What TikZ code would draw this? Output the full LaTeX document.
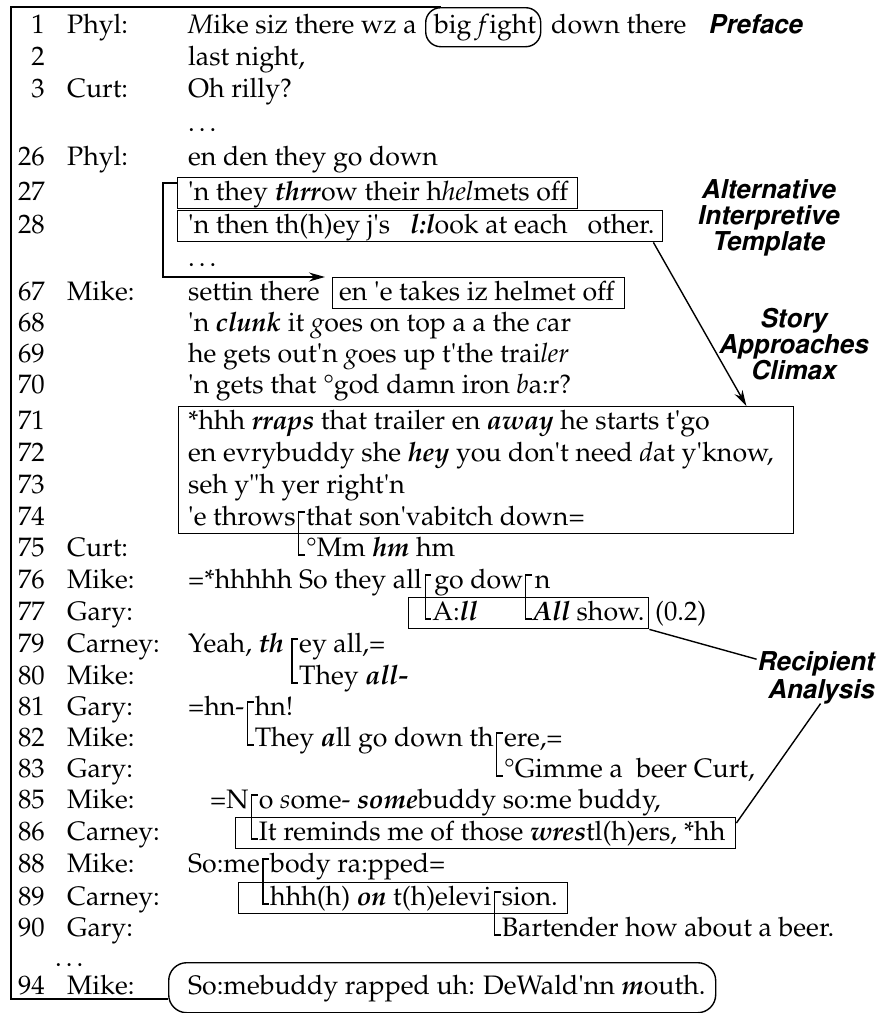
\documentclass[tikz,border=0pt]{standalone}
\usepackage[T1]{fontenc}
\renewcommand\rmdefault{ppl}
\usetikzlibrary{calc,arrows.meta}
\newcommand\bi[1]{\textbf{\textit{#1}}}
\newcommand\q{\textquotesingle}
\newcommand\fs{\fontsize{26.7}{32}\selectfont}
\newcommand\lblfont{\fontfamily{phv}\fontseries{b}\fontshape{sl}\fontsize{26}{26}\selectfont}
\newcommand\rowlab[3]{\node[num] (n#1) at (45,#3) {#1}; \node[txt] (s#1) at (67,#3) {#2};}
\newcommand\brk[2]{\draw[brkst] ($(#1)+(6,-13)$) -- ++(-6,0) -- ++(0,#2) -- ++(6,0);}
\begin{document}
\begin{tikzpicture}[x=1pt,y=-1pt,
  txt/.style={anchor=base west,inner sep=0pt,font=\fs},
  num/.style={anchor=base east,inner sep=0pt,font=\fs},
  lbl/.style={inner sep=0pt,font=\lblfont,align=center},
  boxst/.style={draw,line width=1.4pt,inner sep=0pt,anchor=north west},
  ovalst/.style={boxst,rounded corners=15pt},
  brkst/.style={line width=1.1pt},
  conn/.style={line width=1.4pt},
  arr/.style={conn,-{Stealth[length=16pt,width=9pt]}}]
\fill[white] (0,0) rectangle (881,1013);
\path[use as bounding box] (0,0) rectangle (881,1013);

% row labels
\rowlab{1}{Phyl:}{33}
\rowlab{2}{}{65}
\rowlab{3}{Curt:}{97}
\rowlab{26}{Phyl:}{165}
\rowlab{27}{}{200}
\rowlab{28}{}{233}
\rowlab{67}{Mike:}{300}
\rowlab{68}{}{331}
\rowlab{69}{}{362}
\rowlab{70}{}{393}
\rowlab{71}{}{429}
\rowlab{72}{}{461}
\rowlab{73}{}{493}
\rowlab{74}{}{525}
\rowlab{75}{Curt:}{556}
\rowlab{76}{Mike:}{588}
\rowlab{77}{Gary:}{620}
\rowlab{79}{Carney:}{652}
\rowlab{80}{Mike:}{684}
\rowlab{81}{Gary:}{715}
\rowlab{82}{Mike:}{746}
\rowlab{83}{Gary:}{777}
\rowlab{85}{Mike:}{808}
\rowlab{86}{Carney:}{840}
\rowlab{88}{Mike:}{872}
\rowlab{89}{Carney:}{905}
\rowlab{90}{Gary:}{936}
\rowlab{94}{Mike:}{994}

% boxes
\node[ovalst,minimum width=115pt,minimum height=39pt] (bf) at (425,7) {};
\node[boxst,minimum width=400pt,minimum height=31pt] (b27) at (177,177) {};
\node[boxst,minimum width=485pt,minimum height=31pt] (b28) at (177,210) {};
\node[boxst,minimum width=292pt,minimum height=31pt] (b67) at (332,277) {};
\node[boxst,minimum width=615pt,minimum height=127pt] (b71) at (178,406) {};
\node[boxst,minimum width=240pt,minimum height=31pt] (b77) at (408,597) {};
\node[boxst,minimum width=500pt,minimum height=31pt] (b86) at (235,817) {};
\node[boxst,minimum width=329pt,minimum height=31pt] (b89) at (238,882) {};
\node[boxst,rounded corners=18pt,minimum width=547pt,minimum height=50pt] (m94) at (168,962) {};

% text
\node[txt] (t1a) at (188,33) {\textit{M}ike siz there wz a};
\node[txt] (t1b) at (434,33) {big \textit{f}ight};
\node[txt] (t1c) at (551,33) {down there};
\node[txt] (t2) at (188,65) {last night,};
\node[txt] (t3) at (188,97) {Oh rilly?};
\node[txt] (d1) at (188,131) {\textellipsis};
\node[txt] (t26) at (188,165) {en den they go down};
\node[txt] (t27) at (188,200) {\q n they \bi{thrr}ow their h\textit{hel}mets off};
\node[txt] (t28) at (188,233) {\q n then th(h)ey j\q s\ \ \ \bi{l:l}ook at each\ \ \ other.};
\node[txt] (d2) at (188,266) {\textellipsis};
\node[txt] (t67a) at (188,300) {settin there};
\node[txt] (t67b) at (339,300) {en \q e takes iz helmet off};
\node[txt] (t68) at (188,331) {\q n \bi{clunk} it \textit{g}oes on top a a the \textit{c}ar};
\node[txt] (t69) at (188,362) {he gets out\q n \textit{g}oes up t\q the trai\textit{ler}};
\node[txt] (t70) at (188,393) {\q n gets that \textdegree god damn iron \textit{b}a:r?};
\node[txt] (t71) at (188,429) {*hhh \bi{rraps} that trailer en \bi{away} he starts t\q go};
\node[txt] (t72) at (188,461) {en evrybuddy she \bi{hey} you don\q t need \textit{d}at y\q know,};
\node[txt] (t73) at (188,493) {seh y\textquotedbl h yer right\q n};
\node[txt] (t74a) at (188,525) {\q e throws};
\coordinate (k74) at ($(t74a.base east)+(3,0)$);
\node[txt] (t74b) at ($(k74)+(7,0)$) {that son\q vabitch down=};
\node[txt] (t75) at ($(k74)+(7,31)$) {\textdegree Mm \bi{hm} hm};
\brk{k74}{43}

\node[txt] (t76a) at (188,588) {=*hhhhh So they all};
\coordinate (k76a) at ($(t76a.base east)+(3,0)$);
\node[txt] (t76b) at ($(k76a)+(9,0)$) {go dow};
\coordinate (k76b) at ($(t76b.base east)+(2,0)$);
\node[txt] (t76c) at ($(k76b)+(9,0)$) {n};
\node[txt] (t77a) at ($(k76a)+(7,32)$) {A:\bi{ll}};
\node[txt] (t77b) at ($(k76b)+(7,32)$) {\bi{All} show.};
\node[txt] (t77c) at (655,620) {(0.2)};
\brk{k76a}{44}
\brk{k76b}{44}

\node[txt] (t79a) at (188,652) {Yeah, \bi{th}};
\coordinate (k79) at ($(t79a.base east)+(8,0)$);
\node[txt] (t79b) at ($(k79)+(7,0)$) {ey all,=};
\node[txt] (t80) at ($(k79)+(7,32)$) {They \bi{all-}};
\brk{k79}{44}

\node[txt] (t81a) at (188,715) {=hn-};
\coordinate (k81) at ($(t81a.base east)+(3,0)$);
\node[txt] (t81b) at ($(k81)+(7,0)$) {hn!};
\node[txt] (t82a) at ($(k81)+(7,31)$) {They \bi{a}ll go down th};
\brk{k81}{43}
\coordinate (k82) at ($(t82a.base east)+(3,0)$);
\node[txt] (t82b) at ($(k82)+(7,0)$) {ere,=};
\node[txt] (t83) at ($(k82)+(7,31)$) {\textdegree Gimme a\ \ beer Curt,};
\brk{k82}{43}

\node[txt] (t85a) at (210,808) {=N};
\coordinate (k85) at ($(t85a.base east)+(3,0)$);
\node[txt] (t85b) at ($(k85)+(7,0)$) {o \textit{s}ome- \bi{some}buddy so:me buddy,};
\node[txt] (t86) at ($(k85)+(7,32)$) {It reminds me of those \bi{wres}tl(h)ers, *hh};
\brk{k85}{44}

\node[txt] (t88a) at (188,872) {So:me};
\coordinate (k88) at ($(t88a.base east)+(3,0)$);
\node[txt] (t88b) at ($(k88)+(7,0)$) {body ra:pped=};
\node[txt] (t89a) at ($(k88)+(7,33)$) {hhh(h) \bi{on} t(h)elevi};
\brk{k88}{45}
\coordinate (k89) at ($(t89a.base east)+(3,0)$);
\node[txt] (t89b) at ($(k89)+(7,0)$) {sion.};
\node[txt] (t90) at ($(k89)+(7,31)$) {Bartender how about a beer.};
\brk{k89}{43}

\node[txt] (d3) at (55,966) {\textellipsis};
\node[txt] (t94) at (188,994) {So:mebuddy rapped uh: DeWald\q nn \bi{m}outh.};

% labels
\node[lbl,anchor=base west] (pref) at (708,33) {Preface};
\node[lbl] (alt) at (768,218) {Alternative\\Interpretive\\Template};
\node[lbl] (story) at (793,344) {Story\\Approaches\\Climax};
\node[lbl,anchor=base east] (rec1) at (874,670) {Recipient};
\node[lbl,anchor=base east] (rec2) at (874,698) {Analysis};

% connectors
\draw[conn] ([xshift=16pt]bf.north west) -- (11,7) -- (11,999) -- (m94.west |- 0,999);
\draw[arr] ([yshift=-6pt]b27.north west) -- ++(-14,0) |- ([xshift=-7pt]b67.north west);
\draw[arr] ([xshift=-10pt]b28.south east) -- ([xshift=-48pt]b71.north east);
\draw[conn] (b77.south east) -- ([yshift=4pt]rec1.west);
\draw[conn] (rec2.south) -- ([yshift=-6pt]b86.north east);
\end{tikzpicture}
\end{document}
